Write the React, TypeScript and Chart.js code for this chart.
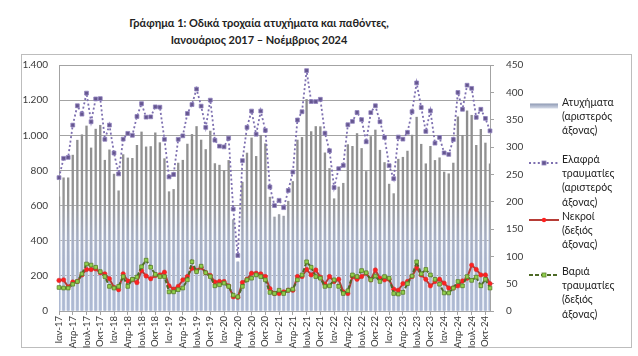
import React, { useEffect, useRef } from "react";
import { Chart, registerables } from "chart.js";

Chart.register(...registerables);

// ---------- DATA ----------
const monthAbbr = ["Ιαν", "Φεβ", "Μαρ", "Απρ", "Μαΐ", "Ιουν", "Ιουλ", "Αυγ", "Σεπ", "Οκτ", "Νοε", "Δεκ"];
const yearSuffixes = ["17", "18", "19", "20", "21", "22", "23", "24"];
const monthsInLastYear = 11; // up to Νοέμβριος 2024

// Ατυχήματα (left axis)
const accidents = [
  650, 758, 758, 887, 972, 1003, 1053, 928, 1035, 1057, 858, 917,
  779, 684, 890, 871, 869, 943, 1019, 934, 936, 1014, 958, 867,
  679, 692, 842, 858, 950, 1005, 1050, 973, 919, 1024, 839, 830,
  800, 857, 520, 280, 733, 899, 985, 880, 1000, 952, 648, 535,
  549, 540, 625, 737, 973, 988, 1204, 1021, 1050, 1049, 900, 811,
  639, 706, 727, 947, 937, 1010, 925, 794, 993, 1030, 915, 845,
  722, 668, 864, 875, 910, 1001, 1103, 949, 838, 937, 857, 872,
  791, 781, 842, 1105, 1000, 1139, 1114, 943, 1034, 956, 838,
];

// Ελαφρά τραυματίες (left axis)
const lightInjuries = [
  759, 869, 874, 1058, 1168, 1120, 1240, 1077, 1207, 1209, 977, 1058,
  899, 780, 978, 1011, 1000, 1107, 1180, 1103, 1105, 1162, 1160, 977,
  763, 777, 977, 997, 1124, 1175, 1263, 1166, 1045, 1200, 972, 938,
  934, 984, 580, 316, 856, 1045, 1138, 1006, 1138, 1028, 706, 600,
  630, 588, 686, 791, 1087, 1134, 1368, 1192, 1192, 1205, 1012, 912,
  703, 810, 829, 1060, 1079, 1130, 1089, 963, 1129, 1168, 1077, 988,
  827, 753, 990, 978, 1017, 1134, 1298, 1158, 1022, 1139, 955, 988,
  900, 891, 976, 1244, 1148, 1285, 1267, 1102, 1148, 1096, 1025,
];

// Νεκροί (right axis)
const deaths = [
  56, 57, 44, 53, 54, 66, 76, 76, 77, 70, 68, 59,
  43, 39, 68, 55, 57, 52, 74, 64, 59, 65, 66, 71,
  46, 40, 45, 57, 63, 78, 74, 80, 70, 65, 53, 54,
  54, 46, 26, 25, 52, 58, 69, 69, 68, 63, 41, 32,
  32, 35, 38, 38, 63, 63, 76, 66, 75, 62, 49, 63,
  54, 58, 35, 32, 63, 58, 63, 69, 57, 75, 60, 57,
  58, 40, 38, 50, 54, 63, 79, 66, 58, 46, 54, 58,
  51, 42, 42, 46, 55, 60, 84, 76, 66, 66, 50,
];

// Βαριά τραυματίες (right axis)
const seriousInjuries = [
  43, 42, 42, 49, 54, 68, 86, 84, 80, 72, 63, 45,
  42, 45, 63, 45, 58, 62, 81, 93, 80, 67, 63, 63,
  35, 35, 39, 42, 57, 90, 72, 82, 70, 63, 46, 48,
  51, 45, 29, 26, 45, 57, 60, 66, 63, 57, 34, 32,
  38, 32, 38, 40, 57, 66, 90, 80, 63, 60, 45, 46,
  57, 45, 32, 37, 66, 63, 74, 70, 57, 64, 54, 63,
  60, 32, 31, 34, 50, 64, 90, 68, 76, 66, 58, 49,
  33, 33, 42, 54, 46, 63, 56, 62, 46, 58, 42,
];

const leftAxis = { min: 0, max: 1400, step: 200 };
const rightAxis = { min: 0, max: 450, step: 50 };

const legendLabels = [
  ["Ατυχήματα", "(αριστερός", "άξονας)"],
  ["Ελαφρά", "τραυματίες", "(αριστερός", "άξονας)"],
  ["Νεκροί", "(δεξιός", "άξονας)"],
  ["Βαριά", "τραυματίες", "(δεξιός", "άξονας)"],
];

const titleLines = [
  "Γράφημα 1: Οδικά τροχαία ατυχήματα και παθόντες,",
  "Ιανουάριος 2017 – Νοέμβριος 2024",
];

// categories built from month / year lists
const categories: string[] = [];
yearSuffixes.forEach((y, yi) => {
  const n = yi === yearSuffixes.length - 1 ? monthsInLastYear : 12;
  for (let m = 0; m < n; m++) categories.push(`${monthAbbr[m]}-${y}`);
});

const FONT = "Lato, 'Noto Sans', 'DejaVu Sans', sans-serif";

function fmtThousands(v: number): string {
  if (v >= 1000) {
    const k = Math.floor(v / 1000);
    const r = String(v % 1000).padStart(3, "0");
    return `${k}.${r}`;
  }
  return String(v);
}

function vGrad(chart: any, stops: [number, string][], fallback: string) {
  const { chartArea, scales } = chart;
  if (!chartArea || !scales || !scales.y) return fallback;
  const ys = scales.y;
  const p0 = ys.getPixelForValue(leftAxis.min);
  const p1 = ys.getPixelForValue(leftAxis.max);
  const g = chart.ctx.createLinearGradient(0, p0, 0, p1);
  stops.forEach(([v, c]) => g.addColorStop(v / leftAxis.max, c));
  return g;
}

const CANVAS_W = 545;
const CANVAS_H = 356;
const AREA_LEFT = 59;
const AREA_RIGHT = 490;
const AREA_TOP = 65;
const AREA_BOTTOM = 311;

export default function App() {
  const ref = useRef<HTMLCanvasElement>(null);

  useEffect(() => {
    const canvas = ref.current;
    if (!canvas) return;
    const gridColor = "#a3a3a3";
    const tickColor = "#3a3a3a";

    const chart = new Chart(canvas, {
      type: "bar",
      data: {
        labels: categories,
        datasets: [
          {
            type: "line",
            label: "Βαριά τραυματίες (δεξιός άξονας)",
            data: seriousInjuries,
            yAxisID: "y1",
            order: 1,
            borderColor: "#4d6a26",
            borderWidth: 2,
            borderDash: [4, 2],
            pointStyle: "rect",
            pointRadius: 2.6,
            pointBackgroundColor: "#8fcf4c",
            pointBorderColor: "#5b7f2b",
            pointBorderWidth: 0.8,
            tension: 0,
          },
          {
            type: "line",
            label: "Νεκροί (δεξιός άξονας)",
            data: deaths,
            yAxisID: "y1",
            order: 2,
            borderColor: "#b63c36",
            borderWidth: 2,
            pointStyle: "circle",
            pointRadius: 2.2,
            pointBackgroundColor: "#ff2020",
            pointBorderColor: "#d43030",
            pointBorderWidth: 0.6,
            tension: 0,
          },
          {
            type: "line",
            label: "Ελαφρά τραυματίες (αριστερός άξονας)",
            data: lightInjuries,
            yAxisID: "y",
            order: 3,
            borderColor: "#7d6fb0",
            borderWidth: 1.8,
            borderDash: [2, 2.4],
            pointStyle: "rect",
            pointRadius: 2.7,
            pointBackgroundColor: "#65568f",
            pointBorderColor: "#9284bf",
            pointBorderWidth: 0.8,
            tension: 0,
          },
          {
            type: "bar",
            label: "Ατυχήματα (αριστερός άξονας)",
            data: accidents,
            yAxisID: "y",
            order: 4,
            grouped: false,
            barThickness: 1.7,
            backgroundColor: (c: any) =>
              vGrad(
                c.chart,
                [
                  [0, "rgba(170,182,208,0.85)"],
                  [420, "rgba(160,168,188,0.9)"],
                  [620, "rgba(150,150,150,1)"],
                  [1400, "rgba(135,135,135,1)"],
                ],
                "#999"
              ),
          },
          {
            type: "bar",
            label: "_shade",
            data: accidents,
            yAxisID: "y",
            order: 5,
            grouped: false,
            categoryPercentage: 1,
            barPercentage: 0.78,
            backgroundColor: (c: any) =>
              vGrad(
                c.chart,
                [
                  [0, "rgba(196,207,229,1)"],
                  [300, "rgba(206,216,236,0.95)"],
                  [520, "rgba(224,231,244,0.55)"],
                  [660, "rgba(255,255,255,0)"],
                  [1400, "rgba(255,255,255,0)"],
                ],
                "rgba(200,210,230,0.6)"
              ),
          },
        ],
      } as any,
      options: {
        responsive: false,
        animation: false,
        devicePixelRatio: 1,
        layout: { padding: { top: AREA_TOP, left: 0, right: 0, bottom: 0 } },
        plugins: {
          legend: { display: false },
          title: { display: false },
          tooltip: { enabled: false },
        },
        scales: {
          x: {
            type: "category",
            offset: false,
            grid: {
              offset: false,
              drawOnChartArea: false,
              drawTicks: true,
              tickLength: 4,
              color: (c: any) => (c.index % 3 === 0 ? gridColor : "rgba(0,0,0,0)"),
            },
            border: { display: true, color: gridColor },
            ticks: {
              autoSkip: false,
              minRotation: 90,
              maxRotation: 90,
              padding: 1,
              color: tickColor,
              font: { family: FONT, size: 9.5 },
              callback: (_v: any, i: number) => (i % 3 === 0 ? categories[i] : ""),
            },
            afterFit: (s: any) => {
              s.height = CANVAS_H - AREA_BOTTOM;
            },
          },
          y: {
            position: "left",
            min: leftAxis.min,
            max: leftAxis.max,
            grid: { color: gridColor, lineWidth: 1, drawTicks: false },
            border: { display: true, color: gridColor },
            ticks: {
              stepSize: leftAxis.step,
              padding: 11,
              color: tickColor,
              font: { family: FONT, size: 10 },
              callback: (v: any) => fmtThousands(Number(v)),
            },
            afterFit: (s: any) => {
              s.width = AREA_LEFT;
            },
          },
          y1: {
            position: "right",
            min: rightAxis.min,
            max: rightAxis.max,
            grid: { drawOnChartArea: false, drawTicks: true, tickLength: 4, color: gridColor },
            border: { display: true, color: gridColor },
            ticks: {
              stepSize: rightAxis.step,
              padding: 12,
              color: tickColor,
              font: { family: FONT, size: 10 },
            },
            afterFit: (s: any) => {
              s.width = CANVAS_W - AREA_RIGHT;
            },
          },
        },
      } as any,
    });
    return () => chart.destroy();
  }, []);

  const legendTops = [101.7, 159, 216, 271];
  const lineH = 14.3;

  const symbol = (i: number) => {
    if (i === 0) {
      return (
        <svg width="32" height="12">
          <defs>
            <linearGradient id="lgBar" x1="0" y1="0" x2="0" y2="1">
              <stop offset="0" stopColor="#8d99b3" />
              <stop offset="1" stopColor="#d6dce9" />
            </linearGradient>
          </defs>
          <rect x="2" y="3.5" width="28" height="5" fill="url(#lgBar)" />
        </svg>
      );
    }
    if (i === 1) {
      return (
        <svg width="32" height="12">
          <line x1="1" y1="6" x2="31" y2="6" stroke="#7d6fb0" strokeWidth="1.8" strokeDasharray="2 2.4" />
          <rect x="14" y="4" width="4" height="4" fill="#65568f" stroke="#9284bf" strokeWidth="0.8" />
        </svg>
      );
    }
    if (i === 2) {
      return (
        <svg width="32" height="12">
          <line x1="1" y1="6" x2="31" y2="6" stroke="#b63c36" strokeWidth="2" />
          <circle cx="16" cy="6" r="2.2" fill="#ff2020" />
        </svg>
      );
    }
    return (
      <svg width="32" height="12">
        <line x1="1" y1="6" x2="31" y2="6" stroke="#4d6a26" strokeWidth="2" strokeDasharray="4 2" />
        <rect x="14" y="4" width="4" height="4" fill="#8fcf4c" stroke="#5b7f2b" strokeWidth="0.8" />
      </svg>
    );
  };

  return (
    <div
      style={{
        position: "absolute",
        left: 0,
        top: 0,
        width: 638,
        height: 356,
        background: "#fff",
        overflow: "hidden",
        fontFamily: FONT,
      }}
    >
      {titleLines.map((t, i) => (
        <div
          key={i}
          style={{
            position: "absolute",
            left: 0,
            width: 518,
            top: 14 + i * 17,
            textAlign: "center",
            fontWeight: 700,
            fontSize: 11,
            lineHeight: "17px",
            color: "#222",
            whiteSpace: "nowrap",
          }}
        >
          {t}
        </div>
      ))}
      <div
        style={{
          position: "absolute",
          left: 21,
          top: 54,
          width: 611,
          height: 294,
          border: "1px solid #bdbdbd",
          boxSizing: "border-box",
        }}
      />
      <canvas
        ref={ref}
        width={CANVAS_W}
        height={CANVAS_H}
        style={{ position: "absolute", left: 0, top: 0, width: CANVAS_W, height: CANVAS_H }}
      />
      {legendLabels.map((lines, i) => (
        <div key={i}>
          <div style={{ position: "absolute", left: 528, top: legendTops[i] - 6 }}>{symbol(i)}</div>
          <div
            style={{
              position: "absolute",
              left: 562,
              top: legendTops[i] - lineH / 2,
              fontSize: 10.5,
              lineHeight: `${lineH}px`,
              color: "#222",
              whiteSpace: "nowrap",
            }}
          >
            {lines.map((l, j) => (
              <div key={j}>{l}</div>
            ))}
          </div>
        </div>
      ))}
    </div>
  );
}
